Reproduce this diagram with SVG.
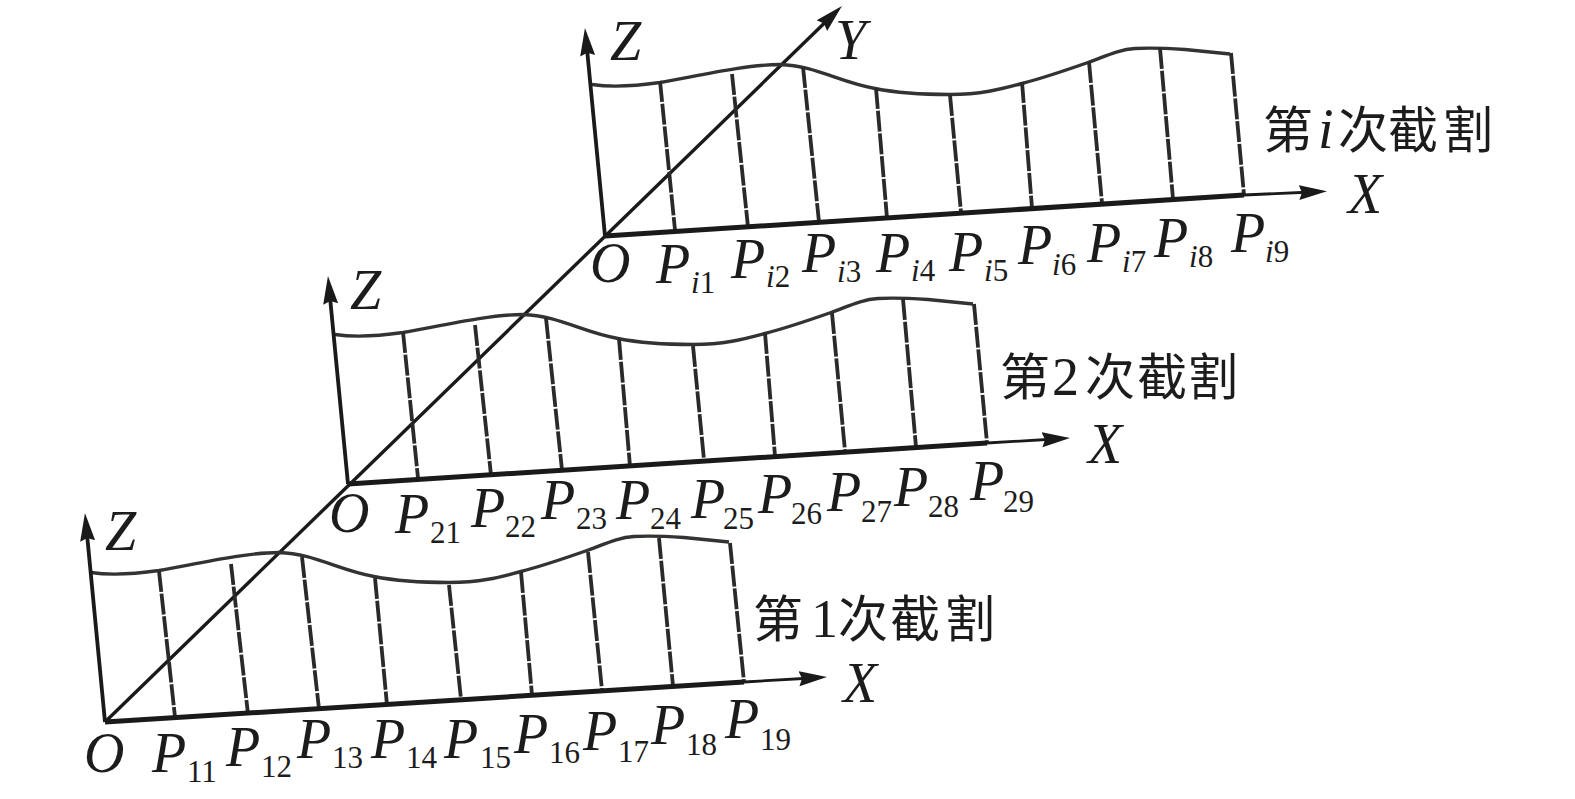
<svg xmlns="http://www.w3.org/2000/svg" width="1575" height="799" viewBox="0 0 1575 799">
<style>
.wave{fill:none;stroke:#333;stroke-width:3.4}
.dash{fill:none;stroke:#2a2a2a;stroke-width:3.8;stroke-dasharray:21 1.8}
.x{fill:none;stroke:#1a1a1a;stroke-width:5}
.xt{fill:none;stroke:#1a1a1a;stroke-width:2.8;marker-end:url(#head)}
.z{fill:none;stroke:#1a1a1a;stroke-width:3.8;marker-end:url(#head)}
.y{fill:none;stroke:#1a1a1a;stroke-width:3.4;marker-end:url(#head)}
text{fill:#1c1c1c}
.p{font-family:"Liberation Serif",serif;font-style:italic;font-size:56px}
.s{font-family:"Liberation Serif",serif;font-style:normal;font-size:31px}
.si{font-style:italic}
.c{font-family:"Noto Sans CJK SC",sans-serif;font-size:50px}
.n{font-family:"Liberation Serif",serif;font-size:54px}
</style>
<defs>
<marker id="head" markerUnits="userSpaceOnUse" markerWidth="30" markerHeight="18" viewBox="0 -9 30 18" refX="13" refY="0" orient="auto"><path d="M0,-7.5 L28,0 L0,7.5 L3,0 Z" fill="#1a1a1a"/></marker>
<path id="wave" class="wave" d="M592,84.5 C612,87.5 632,86.5 660,82.5 C695,76.5 745,64.5 780,64.5 C815,65.5 840,82.5 875,88.5 C900,93.5 925,94.5 950,94.5 C980,94.5 1000,89.5 1022,83.5 C1045,77.5 1068,69.5 1088,62.5 C1105,56.5 1118,49.5 1135,48.5 C1150,47.5 1170,48.5 1185,49.5 L1230,54"/>
</defs>
<g id="connectors">
<path id="y-axis" class="y" d="M105,722 L831.2,16.5"/>
</g>
<g id="frame-i">
<use href="#wave"/>
<path class="dash" d="M660,81L675,230M732,74L748,227M803,67L819,222M876,88L887,218M950,95L961,212M1022,82L1032,208M1089,62L1102,203M1160,48L1173,199M1231,53L1244,195"/>
<path class="z" d="M605,236 L586.4,42.9"/>
<path class="x" d="M605,236 L1244,195"/>
<path class="xt" d="M1244,195 L1312,192"/>
<text class="p" x="610" y="60">Z</text>
<text class="p" x="590" y="282">O</text>
<text class="p" x="1348" y="213">X</text>
<text class="p" x="835" y="59">Y</text>
<text class="p" x="656" y="283">P<tspan class="s" x="691" y="293"><tspan class="si">i</tspan>1</tspan></text>
<text class="p" x="731" y="278">P<tspan class="s" x="766" y="287"><tspan class="si">i</tspan>2</tspan></text>
<text class="p" x="802" y="272">P<tspan class="s" x="837" y="282"><tspan class="si">i</tspan>3</tspan></text>
<text class="p" x="876" y="272">P<tspan class="s" x="911" y="281"><tspan class="si">i</tspan>4</tspan></text>
<text class="p" x="949" y="271">P<tspan class="s" x="984" y="281"><tspan class="si">i</tspan>5</tspan></text>
<text class="p" x="1018" y="264">P<tspan class="s" x="1052" y="275"><tspan class="si">i</tspan>6</tspan></text>
<text class="p" x="1087" y="262">P<tspan class="s" x="1122" y="272"><tspan class="si">i</tspan>7</tspan></text>
<text class="p" x="1154" y="257">P<tspan class="s" x="1189" y="267"><tspan class="si">i</tspan>8</tspan></text>
<text class="p" x="1231" y="252">P<tspan class="s" x="1265" y="262"><tspan class="si">i</tspan>9</tspan></text>
<text class="c" x="1263" y="148">第<tspan class="p" x="1318">i</tspan><tspan x="1338">次</tspan><tspan x="1388">截</tspan><tspan x="1443">割</tspan></text>
</g>
<g id="frame-2">
<use href="#wave" x="-257" y="250"/>
<path class="dash" d="M403,332L418,478M475,325L491,475M546,318L562,470M619,339L630,466M693,346L704,460M765,333L775,456M832,313L845,451M903,299L916,447M974,304L987,443"/>
<path class="z" d="M348,484 L329.4,291"/>
<path class="x" d="M348,484 L987,443"/>
<path class="xt" d="M987,443 L1055,439"/>
<text class="p" x="350" y="309">Z</text>
<text class="p" x="329" y="532">O</text>
<text class="p" x="1088" y="463">X</text>
<text class="p" x="395" y="533">P<tspan class="s" x="430" y="543">21</tspan></text>
<text class="p" x="471" y="527">P<tspan class="s" x="505" y="537">22</tspan></text>
<text class="p" x="541" y="519">P<tspan class="s" x="576" y="529">23</tspan></text>
<text class="p" x="616" y="519">P<tspan class="s" x="650" y="529">24</tspan></text>
<text class="p" x="691" y="518">P<tspan class="s" x="723" y="529">25</tspan></text>
<text class="p" x="758" y="513">P<tspan class="s" x="791" y="524">26</tspan></text>
<text class="p" x="827" y="511">P<tspan class="s" x="861" y="522">27</tspan></text>
<text class="p" x="894" y="506">P<tspan class="s" x="928" y="517">28</tspan></text>
<text class="p" x="970" y="500">P<tspan class="s" x="1003" y="512">29</tspan></text>
<text class="c" x="1000" y="395">第<tspan class="n" x="1052">2</tspan><tspan x="1085">次</tspan><tspan x="1137">截</tspan><tspan x="1188">割</tspan></text>
</g>
<g id="frame-1">
<use href="#wave" x="-501" y="488"/>
<path class="dash" d="M159,571L175,717M231,564L248,714M302,557L319,709M375,578L387,705M449,585L461,699M521,572L532,695M588,552L602,690M659,538L673,686M730,543L744,682"/>
<path class="z" d="M105,722 L86.4,528"/>
<path class="x" d="M105,722 L744,682"/>
<path class="xt" d="M744,682 L812,678"/>
<text class="p" x="105" y="550">Z</text>
<text class="p" x="84" y="772">O</text>
<text class="p" x="843" y="702">X</text>
<text class="p" x="152" y="772">P<tspan class="s" x="187" y="782">11</tspan></text>
<text class="p" x="226" y="766">P<tspan class="s" x="261" y="777">12</tspan></text>
<text class="p" x="297" y="758">P<tspan class="s" x="332" y="768">13</tspan></text>
<text class="p" x="371" y="758">P<tspan class="s" x="406" y="768">14</tspan></text>
<text class="p" x="444" y="758">P<tspan class="s" x="480" y="768">15</tspan></text>
<text class="p" x="514" y="753">P<tspan class="s" x="549" y="763">16</tspan></text>
<text class="p" x="583" y="750">P<tspan class="s" x="618" y="762">17</tspan></text>
<text class="p" x="651" y="744">P<tspan class="s" x="686" y="755">18</tspan></text>
<text class="p" x="725" y="738">P<tspan class="s" x="760" y="750">19</tspan></text>
<text class="c" x="753" y="637">第<tspan class="n" x="811">1</tspan><tspan x="838">次</tspan><tspan x="890">截</tspan><tspan x="945">割</tspan></text>
</g>
</svg>
